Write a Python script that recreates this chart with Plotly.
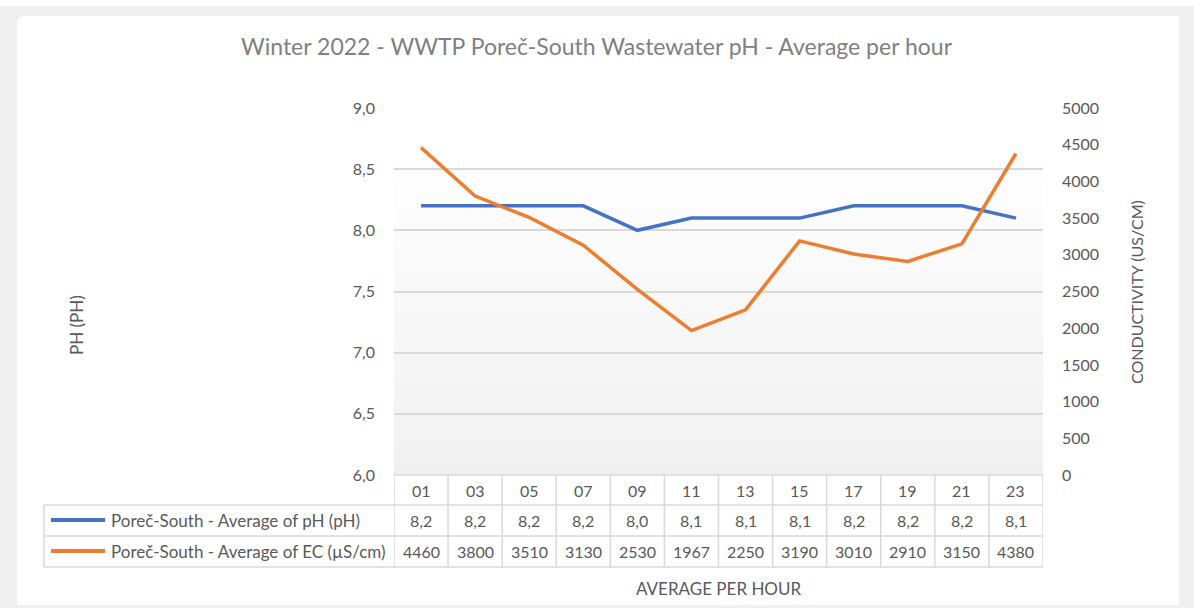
import plotly.graph_objects as go

# ---------------- data ----------------
hours = ["01", "03", "05", "07", "09", "11", "13", "15", "17", "19", "21", "23"]
ph_values = [8.2, 8.2, 8.2, 8.2, 8.0, 8.1, 8.1, 8.1, 8.2, 8.2, 8.2, 8.1]
ec_values = [4460, 3800, 3510, 3130, 2530, 1967, 2250, 3190, 3010, 2910, 3150, 4380]
ph_name = "Poreč-South - Average of pH (pH)"
ec_name = "Poreč-South - Average of EC (µS/cm)"
title_text = "Winter 2022 - WWTP Poreč-South Wastewater pH - Average per hour"
left_title = "PH (PH)"
right_title = "CONDUCTIVITY (US/CM)"
x_title = "AVERAGE PER HOUR"

# ---------------- layout geometry (pixels) ----------------
W, H = 1194, 608
PL, PR, PT, PB = 394, 1043, 108, 475
FONT = "Lato"
TXT = "#595959"
GRID = "#d9d9d9"
BLUE = "#4472C4"
ORANGE = "#ED7D31"
FS = 16      # numbers
FT = 17      # words


def px(xp):
    return (xp - PL) / (PR - PL)


def py(yp):
    return (PB - yp) / (PB - PT)


fig = go.Figure()
fig.add_trace(go.Scatter(x=hours, y=ph_values, mode="lines", name=ph_name,
                         line=dict(color=BLUE, width=3.5), yaxis="y"))
fig.add_trace(go.Scatter(x=hours, y=ec_values, mode="lines", name=ec_name,
                         line=dict(color=ORANGE, width=3.5), yaxis="y2"))

shapes = []
# outer gray frame with white rounded card
shapes.append(dict(type="rect", xref="paper", yref="paper",
                   x0=px(0), x1=px(W), y0=py(H), y1=py(0),
                   fillcolor="#f0f0f0", line=dict(width=0), layer="below"))
shapes.append(dict(type="rect", xref="paper", yref="paper",
                   x0=px(0), x1=px(W), y0=py(6), y1=py(0),
                   fillcolor="white", line=dict(width=0), layer="below"))
r = 8
x0, x1, y0, y1 = 17, 1179, 16, 605
path = (f"M {px(x0)},{py(y0 + r)} Q {px(x0)},{py(y0)} {px(x0 + r)},{py(y0)} "
        f"L {px(x1)},{py(y0)} L {px(x1)},{py(y1)} L {px(x0)},{py(y1)} Z")
shapes.append(dict(type="path", xref="paper", yref="paper", path=path,
                   fillcolor="white", line=dict(width=0), layer="below"))

# gradient background of plot area
g_top, g_bot = 150, PB
n = 40
for i in range(n):
    ya = g_top + (g_bot - g_top) * i / n
    yb = g_top + (g_bot - g_top) * (i + 1) / n
    t = (i + 0.5) / n
    c = int(round(255 - (255 - 240) * t))
    col = f"rgb({c},{c},{c})"
    shapes.append(dict(type="rect", xref="paper", yref="paper",
                       x0=0, x1=1, y0=py(yb), y1=py(ya),
                       fillcolor=col, line=dict(width=0), layer="below"))

# table lines
tl = dict(color=GRID, width=1.5)
row_y = [475, 505, 536, 567]
shapes.append(dict(type="line", xref="paper", yref="paper", x0=0, x1=1,
                   y0=py(475), y1=py(475), line=tl))
for yy in row_y[1:]:
    shapes.append(dict(type="line", xref="paper", yref="paper", x0=px(44), x1=1,
                       y0=py(yy), y1=py(yy), line=tl))
shapes.append(dict(type="line", xref="paper", yref="paper", x0=px(44), x1=px(44),
                   y0=py(505), y1=py(567), line=tl))
for k in range(len(hours) + 1):
    shapes.append(dict(type="line", xref="x", yref="paper", x0=k - 0.5, x1=k - 0.5,
                       y0=py(475), y1=py(567), line=tl))
# legend keys
for yy, col in [(520, BLUE), (551, ORANGE)]:
    shapes.append(dict(type="line", xref="paper", yref="paper", x0=px(51), x1=px(105),
                       y0=py(yy), y1=py(yy), line=dict(color=col, width=4)))

ann = []
font = dict(family=FONT, size=FS, color=TXT)
tfont = dict(family=FONT, size=FT, color=TXT)
for i, h in enumerate(hours):
    ann.append(dict(x=i, y=py(490), xref="x", yref="paper", text=h, showarrow=False,
                    font=font, xanchor="center", yanchor="middle"))
    ann.append(dict(x=i, y=py(520), xref="x", yref="paper",
                    text=f"{ph_values[i]:.1f}".replace(".", ","), showarrow=False,
                    font=font, xanchor="center", yanchor="middle"))
    ann.append(dict(x=i, y=py(551), xref="x", yref="paper", text=str(ec_values[i]),
                    showarrow=False, font=font, xanchor="center", yanchor="middle"))
ann.append(dict(x=px(109), y=py(520), xref="paper", yref="paper", text=ph_name,
                showarrow=False, font=tfont, xanchor="left", yanchor="middle"))
ann.append(dict(x=px(109), y=py(551), xref="paper", yref="paper", text=ec_name,
                showarrow=False, font=tfont, xanchor="left", yanchor="middle"))
ann.append(dict(x=px(597), y=py(46), xref="paper", yref="paper", text=title_text,
                showarrow=False, font=dict(family=FONT, size=23, color="#808080"),
                xanchor="center", yanchor="middle"))
ann.append(dict(x=px(718), y=py(588), xref="paper", yref="paper", text=x_title,
                showarrow=False, font=tfont, xanchor="center", yanchor="middle"))
ann.append(dict(x=px(76), y=py(325), xref="paper", yref="paper", text=left_title,
                showarrow=False, font=tfont, textangle=-90,
                xanchor="center", yanchor="middle"))
ann.append(dict(x=px(1136), y=py(292), xref="paper", yref="paper", text=right_title,
                showarrow=False, font=dict(family=FONT, size=16, color=TXT), textangle=-90,
                xanchor="center", yanchor="middle"))

fig.update_layout(
    width=W, height=H,
    margin=dict(l=PL, r=W - PR, t=PT, b=H - PB, pad=0),
    paper_bgcolor="white", plot_bgcolor="rgba(0,0,0,0)",
    separators=",.",
    showlegend=False,
    font=dict(family=FONT, size=FS, color=TXT),
    xaxis=dict(type="category", range=[-0.5, len(hours) - 0.5], showgrid=False,
               showticklabels=False, ticks="", zeroline=False, showline=False,
               fixedrange=True),
    yaxis=dict(range=[6, 9], dtick=0.5, tickformat=".1f", showgrid=True,
               gridcolor=GRID, gridwidth=1.5, zeroline=False, showline=False,
               ticks="", ticklabelstandoff=18,
               tickfont=dict(family=FONT, size=FS, color=TXT)),
    yaxis2=dict(range=[0, 5000], dtick=500, overlaying="y", side="right",
                showgrid=False, zeroline=False, showline=False, ticks="",
                ticklabelstandoff=18, tickformat="d",
                tickfont=dict(family=FONT, size=FS, color=TXT)),
    shapes=shapes,
    annotations=ann,
)

fig.write_html(
    "out.html",
    config={"displayModeBar": False},
    post_script="document.body.style.margin='0';document.body.style.overflow='hidden';",
)
